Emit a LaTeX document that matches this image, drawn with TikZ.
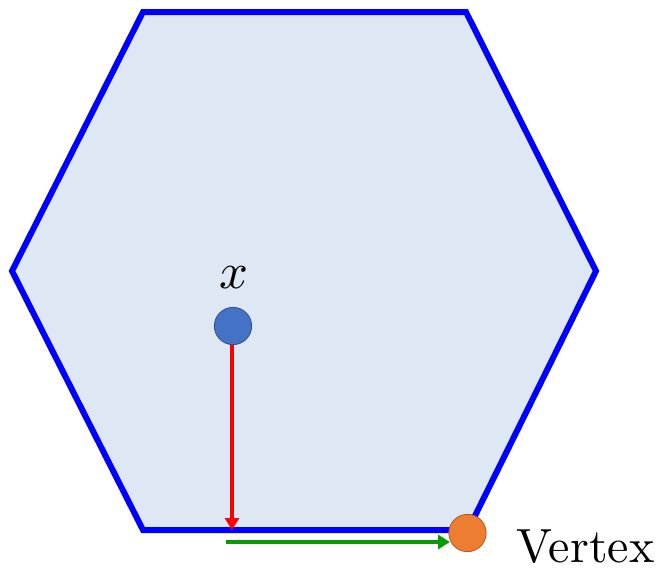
\documentclass[tikz,border=0pt]{standalone}
\usetikzlibrary{arrows.meta}
\definecolor{hexfill}{HTML}{DEE8F4}
\definecolor{hexline}{HTML}{0000FF}
\definecolor{ptblue}{HTML}{4472C4}
\definecolor{ptblueb}{HTML}{2F528F}
\definecolor{ptorange}{HTML}{ED7D31}
\definecolor{ptorangeb}{HTML}{AE5A21}
\definecolor{arrred}{HTML}{FF0000}
\definecolor{arrgreen}{HTML}{079B07}
\begin{document}
\begin{tikzpicture}[x=0.75pt,y=-0.75pt,
  hexstyle/.style={draw=hexline,fill=hexfill,line width=4.5pt,line join=miter},
  dotstyle/.style={circle,minimum size=28pt,inner sep=0pt,line width=0.6pt},
  arrstyle/.style={line width=3pt,-{Triangle[length=9pt,width=10.5pt]}},
  lbl/.style={inner sep=0pt}]
\useasboundingbox (0,0) rectangle (665,568);
\draw[hexstyle] (143,12) -- (466,12) -- (596,271) -- (468,530) -- (143,530) -- (12,271) -- cycle;
\coordinate (redend) at (232,530);
\coordinate (gstart) at (226,542);
\coordinate (gend) at (450,542);
\node[dotstyle,fill=ptblue,draw=ptblueb] (x) at (233,326) {};
\node[dotstyle,fill=ptorange,draw=ptorangeb] (v) at (467.5,533) {};
\draw[arrstyle,draw=arrred,fill=arrred] (x.south) ++(-1,0) coordinate (xs) (xs) -- (redend);
\draw[arrstyle,draw=arrgreen,fill=arrgreen] (gstart) -- (gend);
\node[lbl,scale=3.8] (xl) at (234,278) {$x$};
\node[lbl,anchor=base west,scale=3.6] (vl) at (516,562) {Vertex};
\end{tikzpicture}
\end{document}
